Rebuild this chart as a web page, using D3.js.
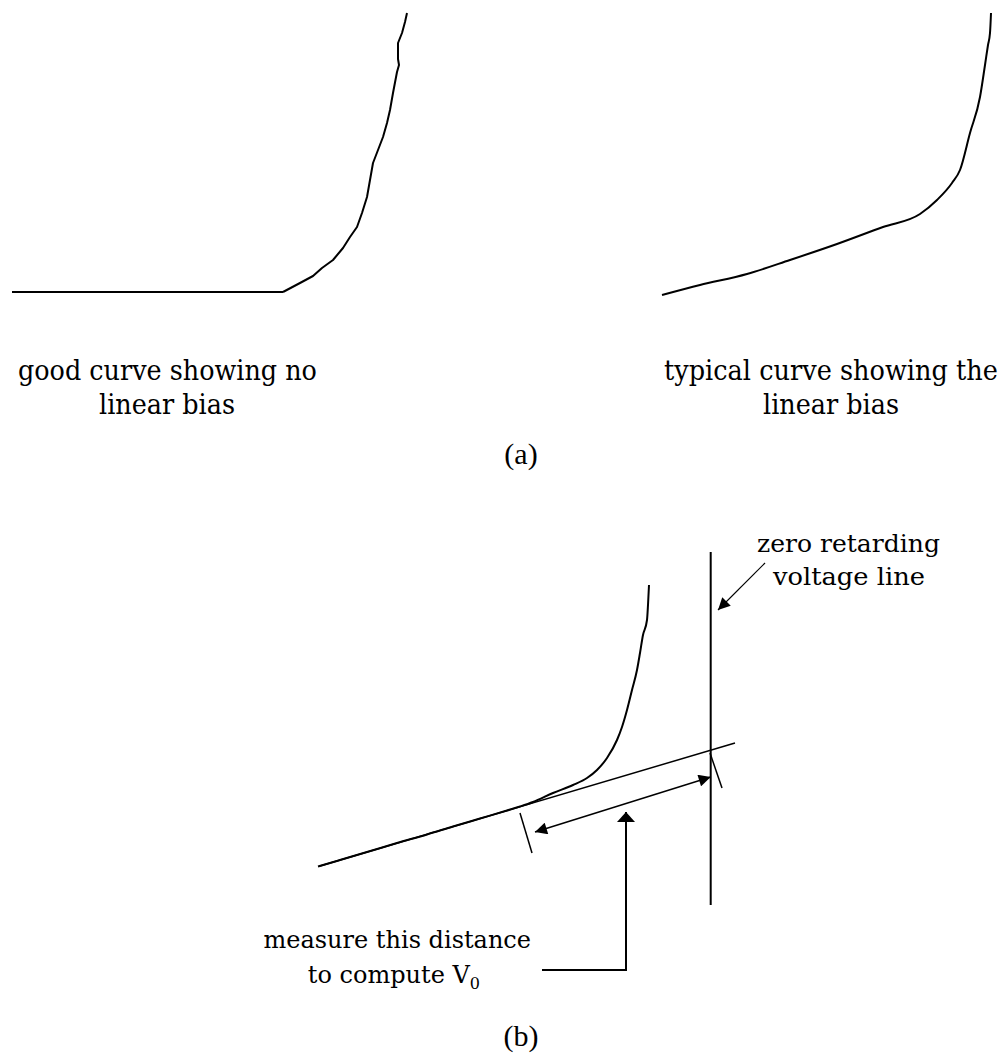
<!DOCTYPE html>
<html>
<head>
<meta charset="utf-8">
<script src="https://cdn.jsdelivr.net/npm/d3@7"></script>
<style>
  body { margin: 0; background: #fff; }
  .note { font-family: "DejaVu Serif", serif; fill: #000; }
  .cap  { font-family: "Liberation Serif", "Times New Roman", serif; fill: #000; }
</style>
</head>
<body>
<svg id="chart"></svg>
<script>
// Photocurrent sketches: (a) good vs typical curve, (b) measuring V0.
// All curve values are in sketch units (1 unit = 10 px), y upward.

const
  W = 1008,          // page width
  H = 1053,          // page height
  unit = 10;         // px per sketch unit

// =====================
// Data
// =====================
const goodFlat = [[0.2, 0], [27.3, 0]];
const goodCurve = [
  [27.3, 0], [29, 0.9], [30.3, 1.6], [31.2, 2.4], [32.3, 3.2], [33.3, 4.4],
  [34, 5.5], [34.7, 6.5], [35.2, 7.9], [35.7, 9.5], [36, 11.2], [36.3, 12.9],
  [36.8, 14.2], [37.3, 15.5], [37.7, 16.9], [38, 18.2], [38.3, 19.9], [38.7, 22],
  [38.9, 22.7], [38.8, 23.3], [38.8, 24.9], [39.2, 25.9], [39.5, 27], [39.7, 27.9]
];
const typicalCurve = [
  [0.2, 0], [4, 1], [8.7, 2.1], [13, 3.5], [17.7, 5.1], [22.3, 6.8], [26, 8.1],
  [27.7, 9.5], [29.2, 11.2], [30, 12.5], [31, 16.2], [32, 19.8], [32.5, 23],
  [32.8, 25], [33, 26.2], [33.1, 28.2]
];
const measuredCurve = [
  [1.8, 3.85], [4, 4.5], [6.7, 5.3], [9.7, 6.2], [12.7, 7.05], [15.3, 7.85], [18, 8.65],
  [20.7, 9.45], [22, 9.85], [23.3, 10.3], [25.3, 11.2], [27.3, 12], [28.7, 12.7],
  [29.7, 13.5], [30.7, 14.7], [31.7, 16.5], [32.2, 17.8], [32.7, 19.5], [33.2, 21.5],
  [33.7, 23.5], [34, 25.2], [34.3, 27], [34.7, 28.5], [34.8, 30], [34.9, 32]
];
const tangentLine  = [[2, 3.9], [43.5, 16.2]];
const zeroLine     = [[41.07, 0], [41.07, 35.3]];
const tickLeft     = [[22, 9.2], [23.2, 5.2]];
const tickRight    = [[41, 15.2], [42.2, 11.7]];
const spanArrow    = [[23.5, 7.3], [41.07, 12.8]];
const pointerArrow = [[24.2, -6.5], [32.6, -6.5], [32.6, 9.3]];
const zeroArrow    = [[46.5, 34.2], [41.8, 29.5]];

// Text
const goodLabel    = ['good curve showing no', 'linear bias'];
const typicalLabel = ['typical curve showing the', 'linear bias'];
const zeroLabel    = ['zero retarding', 'voltage line'];
const measureLabel = ['measure this distance', 'to compute V', '0'];
const captions     = ['(a)', '(b)'];

// =====================
// SVG
// =====================
const svg = d3.select('#chart')
  .attr('width', W)
  .attr('height', H)
  .style('background', '#fff');

const defs = svg.append('defs');
defs.append('marker')          // narrow arrowhead
  .attr('id', 'head')
  .attr('viewBox', '0 0 12 12')
  .attr('refX', 12).attr('refY', 6)
  .attr('markerWidth', 13).attr('markerHeight', 12)
  .attr('markerUnits', 'userSpaceOnUse')
  .attr('orient', 'auto-start-reverse')
  .append('path').attr('d', 'M0,0 L12,6 L0,12 Z').attr('fill', '#000');
defs.append('marker')          // wide arrowhead (pointer)
  .attr('id', 'wide')
  .attr('viewBox', '0 0 10 18')
  .attr('refX', 10).attr('refY', 9)
  .attr('markerWidth', 11).attr('markerHeight', 18)
  .attr('markerUnits', 'userSpaceOnUse')
  .attr('orient', 'auto')
  .append('path').attr('d', 'M0,0 L10,9 L0,18 Z').attr('fill', '#000');

// Each panel gets its own scales, origin in px
function panel(ox, oy) {
  const x = d3.scaleLinear().domain([0, 1]).range([ox, ox + unit]);
  const y = d3.scaleLinear().domain([0, 1]).range([oy, oy - unit]);
  return { x, y };
}

function draw(p, pts, curve, width) {
  const line = d3.line().x(d => p.x(d[0])).y(d => p.y(d[1])).curve(curve || d3.curveLinear);
  return svg.append('path')
    .attr('d', line(pts))
    .attr('fill', 'none')
    .attr('stroke', '#000')
    .attr('stroke-width', width)
    .attr('stroke-linejoin', 'round');
}

// Text squeezed to a given width: font shrinks to fit, then is stretched back up vertically
function note(str, x, y, size, width, anchor) {
  const t = svg.append('text').attr('class', 'note')
    .attr('font-size', size)
    .attr('text-anchor', anchor || 'start')
    .text(str);
  const s = width ? width / t.node().getComputedTextLength() : 1;
  t.attr('font-size', size * s)
    .attr('transform', 'translate(' + x + ',' + y + ') scale(1,' + (1 / s) + ')');
  return t;
}

// =====================
// Panel (a)
// =====================
const pGood = panel(10, 292),
      pTyp  = panel(660, 295);

draw(pGood, goodFlat, null, 2);
draw(pGood, goodCurve, null, 2);
draw(pTyp, typicalCurve, d3.curveMonotoneX, 2);

note(goodLabel[0], 18, 380, 27, 299);
note(goodLabel[1], 167, 414, 27, 136, 'middle');
note(typicalLabel[0], 664, 380, 27, 334);
note(typicalLabel[1], 831, 414, 27, 136, 'middle');

svg.append('text').attr('class', 'cap')
  .attr('x', 521).attr('y', 464)
  .attr('font-size', 30).attr('text-anchor', 'middle')
  .text(captions[0]);

// =====================
// Panel (b)
// =====================
const pB = panel(300, 905);

draw(pB, measuredCurve, d3.curveMonotoneX, 2);
draw(pB, tangentLine, null, 1.5);
draw(pB, zeroLine, null, 2);
draw(pB, tickLeft, null, 1.5);
draw(pB, tickRight, null, 1.5);
draw(pB, spanArrow, null, 1.5)
  .attr('marker-start', 'url(#head)')
  .attr('marker-end', 'url(#head)');
draw(pB, pointerArrow, null, 2)
  .attr('stroke-linejoin', 'miter')
  .attr('marker-end', 'url(#wide)');
draw(pB, zeroArrow, null, 1.2)
  .attr('marker-end', 'url(#head)');

note(zeroLabel[0], 757, 552, 24, 183);
note(zeroLabel[1], 773, 585, 24, 152);

note(measureLabel[0], 531, 948, 24, null, 'end');
const v0 = svg.append('text').attr('class', 'note')
  .attr('x', 480).attr('y', 983)
  .attr('font-size', 24).attr('text-anchor', 'end');
v0.append('tspan').text(measureLabel[1]);
v0.append('tspan').attr('dy', 6).attr('font-size', 16).text(measureLabel[2]);

svg.append('text').attr('class', 'cap')
  .attr('x', 521).attr('y', 1046)
  .attr('font-size', 30).attr('text-anchor', 'middle')
  .text(captions[1]);
</script>
</body>
</html>
